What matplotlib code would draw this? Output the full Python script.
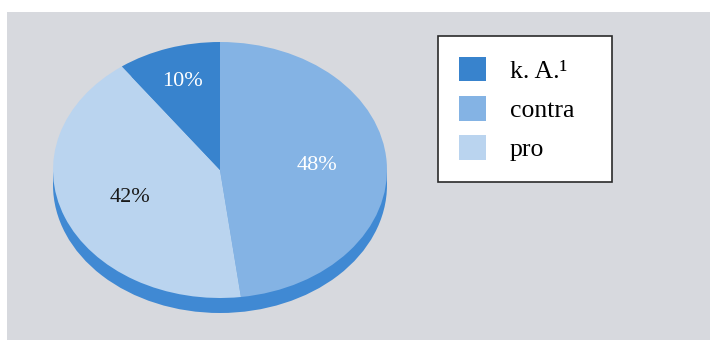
import matplotlib
matplotlib.use("Agg")
import matplotlib.pyplot as plt
from matplotlib.patches import Rectangle, Ellipse
import numpy as np

# Data
labels = ["contra", "pro", "k. A.¹"]
values = [48, 42, 10]
colors = ["#84b3e4", "#bad4ef", "#3883cd"]
pct_colors = ["white", "#1a1a1a", "white"]
pct_dist = [0.58, 0.58, 0.73]
legend_order = [2, 0, 1]

side_color = "#4089d3"
bg_color = "#d7d9de"

W, H = 710, 340
fig = plt.figure(figsize=(W / 100, H / 100), dpi=100, facecolor="white")
plt.rcParams['font.family'] = ['Liberation Serif', 'DejaVu Serif']

# gray panel
fig.patches.append(Rectangle((7 / W, 0), 1, 1 - 12 / H, transform=fig.transFigure,
                             facecolor=bg_color, edgecolor="none", zorder=-5))

# pie axes: top face spans x 53..387, y 42..298 (px from top); depth ~15px
cx0, cx1 = 53, 387
cy_top, cy_bot = 42, 298
depth_px = 15
ry = (cy_bot - cy_top) / 2
d = depth_px / ry
ax = fig.add_axes([cx0 / W, (H - cy_bot - depth_px) / H, (cx1 - cx0) / W,
                   (cy_bot - cy_top + depth_px) / H])
ax.set_zorder(2)

# side wall
ax.add_patch(Ellipse((0, -d), 2, 2, facecolor=side_color, edgecolor="none", zorder=1))
ax.add_patch(Rectangle((-1, -d), 2, d, facecolor=side_color, edgecolor="none", zorder=1))

wedges, texts, autotexts = ax.pie(values, colors=colors, startangle=90, counterclock=False,
                                  autopct="%d%%", pctdistance=0.6, radius=1, frame=True,
                                  wedgeprops=dict(linewidth=0, zorder=2),
                                  textprops=dict(fontsize=16))
ax.set_xlim(-1, 1)
ax.set_ylim(-1 - d, 1)
ax.set_aspect("auto")
ax.axis("off")
for w in wedges:
    w.set_zorder(2)

# reposition percentage labels along wedge mid-angles
for w, t, pdst, c in zip(wedges, autotexts, pct_dist, pct_colors):
    ang = np.deg2rad((w.theta1 + w.theta2) / 2)
    t.set_position((pdst * np.cos(ang), pdst * np.sin(ang)))
    t.set_color(c)
    t.set_zorder(3)

# legend
handles = [wedges[i] for i in legend_order]
leg_labels = [labels[i] for i in legend_order]
leg = fig.legend(handles, leg_labels, loc="upper left", mode="expand",
                 bbox_to_anchor=(438 / W, 1 - 180 / H, 174 / W, 144 / H),
                 bbox_transform=fig.transFigure,
                 borderaxespad=0, fancybox=False, framealpha=1, edgecolor="#2a2a2a",
                 prop=dict(family="Liberation Serif", size=18.5),
                 handlelength=1.05, handleheight=1.1, handletextpad=0.95,
                 labelspacing=0.52, borderpad=0.8)
leg.get_frame().set_linewidth(1.2)
leg.set_zorder(5)

fig.savefig("out.png", dpi=100, facecolor="white")
